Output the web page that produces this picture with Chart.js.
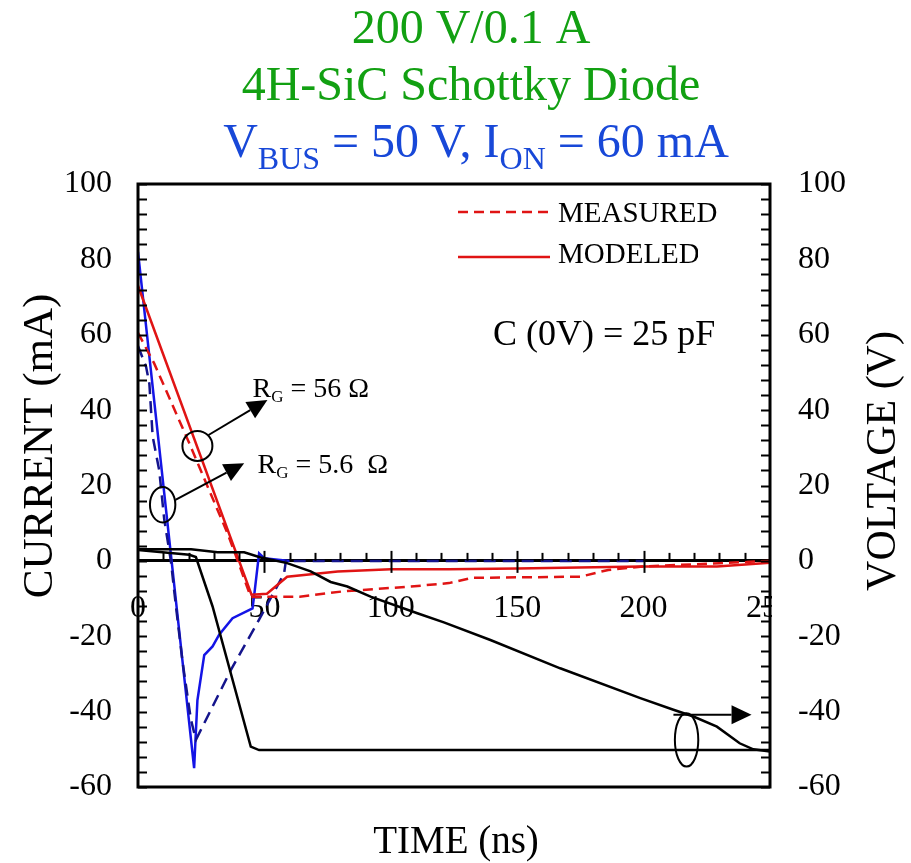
<!DOCTYPE html>
<html><head><meta charset="utf-8">
<script src="https://cdn.jsdelivr.net/npm/chart.js@4/dist/chart.umd.min.js"></script>
<style>html,body{margin:0;padding:0;background:#fff;}#wrap{width:911px;height:863px;}</style>
</head><body><div id="wrap"><canvas id="c" width="911" height="863"></canvas></div>
<script>
// ---------- DATA ----------
const timeTicks = [0, 50, 100, 150, 200, 250];
const currentTicks = [-60, -40, -20, 0, 20, 40, 60, 80, 100];
const voltageTicks = [-60, -40, -20, 0, 20, 40, 60, 80, 100];

// Measured current, RG = 56 ohm (red dashed)
const meas56T = [0, 6.4, 20.3, 35.4, 39.3, 44.6, 50, 64, 81, 108, 123, 132, 175, 186, 200, 230, 250];
const meas56I = [60.5, 52.4, 31.2, 7.3, 0.3, -9.6, -9.5, -9.5, -8.1, -6.8, -5.9, -4.5, -4.2, -2.4, -1.5, -0.6, 0];

// Modeled current, RG = 56 ohm (red solid)
const model56T = [0, 44.9, 51, 59, 79, 100, 123, 150, 199, 229, 250];
const model56I = [73, -9, -8.7, -4.2, -2.8, -2.2, -2.2, -2, -1.5, -1.5, -0.5];

// Modeled current, RG = 5.6 ohm (blue solid)
const model56bT = [0, 13, 22.2, 23.5, 26.2, 29.5, 32.1, 37.4, 45.3, 45.9, 47.9, 49.9, 60];
const model56bI = [82, 1.8, -55, -37, -25, -22.7, -19.6, -15.2, -12.6, -9.5, 2, 0.7, 0];

// Measured current, RG = 5.6 ohm (navy dashed)
const meas56bT = [0, 3.2, 4.5, 5.8, 8.4, 10.4, 13, 15, 17.6, 20.9, 22.9, 24.9, 36.7, 47.9, 57.8, 58.5, 200];
const meas56bI = [57, 51.5, 47, 33, 24, 10.9, 0, -12, -26.7, -42, -47.5, -44.8, -29, -15.6, -3.3, 0, 0];

// Voltage, RG = 56 ohm (black, slow)
const volt56T = [0, 21, 31.5, 42, 48.5, 50, 59, 68.3, 76.2, 82.8, 92, 110.5, 121, 139.4, 167, 198.7, 211.8, 219.7, 229, 238, 243.4, 250];
const volt56V = [3.1, 3.1, 2.3, 2.3, 0.9, 0.7, -0.6, -2.8, -5.6, -6.8, -9.5, -13.9, -16.3, -21, -28.5, -36.4, -39.5, -41.3, -44, -48.4, -50, -50.6];

// Voltage, RG = 5.6 ohm (black, fast)
const volt56bT = [0, 20.3, 22.9, 29.5, 44.6, 47.9, 250];
const volt56bV = [2.9, 1.6, 1.0, -12.1, -49.3, -50.2, -50.2];

// ---------- ANNOTATIONS (data coordinates) ----------
const ellipses = [
  {t: 23.5, v: 30.5, rx: 15, ry: 15, axis: 'y'},
  {t: 9.75, v: 14.9, rx: 12.7, ry: 17.7, axis: 'y'},
  {t: 217, v: -47.5, rx: 11.7, ry: 26.7, axis: 'y2'}
];
const arrows = [
  {t0: 27.9, v0: 33.4, t1: 51.2, v1: 42.7, axis: 'y'},
  {t0: 14.8, v0: 16.2, t1: 42.0, v1: 25.9, axis: 'y'},
  {t0: 211.8, v0: -40.8, t1: 242.7, v1: -40.8, axis: 'y2'}
];
const rgLabels = [
  {t: 45.3, v: 43.6, sub: 'G', rest: ' = 56 \u03A9'},
  {t: 47.3, v: 23.3, sub: 'G', rest: ' = 5.6  \u03A9'}
];

const pts = (xs, ys) => xs.map((x, i) => ({x: x, y: ys[i]}));

const SERIF = "'Liberation Serif','Times New Roman',serif";
const fnt = px => px + 'px ' + SERIF;
const RED = '#e01414', BLUE = '#1414e6', NAVY = '#14148c';

function drawParts(ctx, parts, x, y, align) {
  let total = 0;
  parts.forEach(p => { ctx.font = fnt(p.size); p.w = ctx.measureText(p.text).width; total += p.w; });
  let cx = align === 'center' ? x - total / 2 : x;
  ctx.textAlign = 'left';
  parts.forEach(p => { ctx.font = fnt(p.size); ctx.fillText(p.text, cx, y + (p.dy || 0)); cx += p.w; });
}

const deco = {
  id: 'deco',
  afterDraw(chart) {
    const ctx = chart.ctx, ca = chart.chartArea;
    const xs = chart.scales.x, ys = chart.scales.y, ys2 = chart.scales.y2;
    ctx.save();
    // frame
    ctx.strokeStyle = '#000'; ctx.lineWidth = 3; ctx.setLineDash([]);
    ctx.strokeRect(ca.left, ca.top, ca.right - ca.left, ca.bottom - ca.top);
    // y tick marks (inside)
    ctx.lineWidth = 2;
    for (let v = -60; v <= 100; v += 4) {
      const py = Math.round(ys.getPixelForValue(v)) + 0.5;
      ctx.beginPath(); ctx.moveTo(ca.left, py); ctx.lineTo(ca.left + 9, py); ctx.stroke();
      const py2 = Math.round(ys2.getPixelForValue(v)) + 0.5;
      ctx.beginPath(); ctx.moveTo(ca.right, py2); ctx.lineTo(ca.right - 9, py2); ctx.stroke();
    }
    // x tick marks on zero line
    const zy = ys.getPixelForValue(0);
    for (let t = 10; t < 250; t += 10) {
      const px = Math.round(xs.getPixelForValue(t)) + 0.5;
      ctx.beginPath();
      if (t % 50 === 0) { ctx.moveTo(px, zy - 10); ctx.lineTo(px, zy + 12); }
      else { ctx.moveTo(px, zy); ctx.lineTo(px, zy - 8); }
      ctx.stroke();
    }
    // clip last x label at the frame
    ctx.fillStyle = '#fff';
    ctx.fillRect(ca.right + 2, zy + 30, 26, 34);

    // titles
    ctx.textBaseline = 'alphabetic';
    ctx.fillStyle = '#12a012';
    drawParts(ctx, [{text: '200 V/0.1 A', size: 48}], 471, 43, 'center');
    drawParts(ctx, [{text: '4H-SiC Schottky Diode', size: 48}], 471, 100, 'center');
    ctx.fillStyle = '#1848d8';
    drawParts(ctx, [
      {text: 'V', size: 48}, {text: 'BUS', size: 32, dy: 11.6},
      {text: ' = 50 V, I', size: 48}, {text: 'ON', size: 32, dy: 11.6},
      {text: ' = 60 mA', size: 48}
    ], 476, 157, 'center');

    // axis titles
    ctx.fillStyle = '#000';
    ctx.font = fnt(39); ctx.textAlign = 'center';
    ctx.fillText('TIME (ns)', 456, 853);
    ctx.save(); ctx.translate(52, 446); ctx.rotate(-Math.PI / 2);
    ctx.font = fnt(43); ctx.fillText('CURRENT (mA)', 0, 0); ctx.restore();
    ctx.save(); ctx.translate(895, 461); ctx.rotate(-Math.PI / 2);
    ctx.font = fnt(42); ctx.fillText('VOLTAGE (V)', 0, 0); ctx.restore();

    // legend
    ctx.strokeStyle = RED; ctx.lineWidth = 2.5;
    ctx.setLineDash([10, 6]);
    ctx.beginPath(); ctx.moveTo(458, 212); ctx.lineTo(550, 212); ctx.stroke();
    ctx.setLineDash([]);
    ctx.beginPath(); ctx.moveTo(458, 257); ctx.lineTo(550, 257); ctx.stroke();
    ctx.fillStyle = '#000'; ctx.textAlign = 'left'; ctx.font = fnt(29);
    ctx.fillText('MEASURED', 558, 222);
    ctx.save(); ctx.beginPath(); ctx.rect(550, 230, 148, 45); ctx.clip();
    ctx.fillText('MODELED', 558, 263); ctx.restore();

    // capacitance note
    ctx.font = fnt(36);
    ctx.fillText('C (0V) = 25 pF', 493, 345);

    // ellipses
    ctx.strokeStyle = '#000'; ctx.lineWidth = 2;
    ellipses.forEach(e => {
      const sc = chart.scales[e.axis];
      ctx.beginPath();
      ctx.ellipse(xs.getPixelForValue(e.t), sc.getPixelForValue(e.v), e.rx, e.ry, 0, 0, Math.PI * 2);
      ctx.stroke();
    });
    // arrows
    ctx.fillStyle = '#000';
    arrows.forEach(a => {
      const sc = chart.scales[a.axis];
      const x0 = xs.getPixelForValue(a.t0), y0 = sc.getPixelForValue(a.v0);
      const x1 = xs.getPixelForValue(a.t1), y1 = sc.getPixelForValue(a.v1);
      const ang = Math.atan2(y1 - y0, x1 - x0);
      const L = 20, W = 9.5;
      const bx = x1 - L * Math.cos(ang), by = y1 - L * Math.sin(ang);
      ctx.beginPath(); ctx.moveTo(x0, y0); ctx.lineTo(bx, by); ctx.stroke();
      ctx.beginPath();
      ctx.moveTo(x1, y1);
      ctx.lineTo(bx + W * Math.sin(ang), by - W * Math.cos(ang));
      ctx.lineTo(bx - W * Math.sin(ang), by + W * Math.cos(ang));
      ctx.closePath(); ctx.fill();
    });
    // RG labels
    rgLabels.forEach(l => {
      drawParts(ctx, [{text: 'R', size: 28}, {text: l.sub, size: 17, dy: 5}, {text: l.rest, size: 28}],
        xs.getPixelForValue(l.t), ys.getPixelForValue(l.v), 'left');
    });
    ctx.restore();
  }
};

const line = (data, color, dash, axis) => ({
  data: data, borderColor: color, borderWidth: 2.5, borderDash: dash, yAxisID: axis,
  pointRadius: 0, tension: 0, fill: false
});

new Chart(document.getElementById('c'), {
  type: 'line',
  data: {
    datasets: [
      line(pts(volt56T, volt56V), '#000', [], 'y2'),
      line(pts(volt56bT, volt56bV), '#000', [], 'y2'),
      line(pts(meas56T, meas56I), RED, [10, 6], 'y'),
      line(pts(model56T, model56I), RED, [], 'y'),
      line(pts(meas56bT, meas56bI), NAVY, [12, 7], 'y'),
      line(pts(model56bT, model56bI), BLUE, [], 'y')
    ]
  },
  options: {
    responsive: false, animation: false, devicePixelRatio: 1,
    layout: {padding: {top: 184, bottom: 76, left: 0, right: 0}},
    plugins: {legend: {display: false}, title: {display: false}, tooltip: {enabled: false}},
    scales: {
      x: {
        type: 'linear', position: {y: 0}, min: 0, max: 250,
        afterBuildTicks: s => { s.ticks = timeTicks.map(v => ({value: v})); },
        grid: {display: false, drawTicks: false},
        border: {display: true, width: 3, color: '#000'},
        ticks: {autoSkip: false, maxRotation: 0, padding: 29, color: '#000', font: {family: SERIF, size: 32}}
      },
      y: {
        type: 'linear', position: 'left', min: -60, max: 100,
        afterBuildTicks: s => { s.ticks = currentTicks.map(v => ({value: v})); },
        afterFit: s => { s.width = 138; },
        grid: {display: false, drawTicks: false}, border: {display: false},
        ticks: {padding: 26, color: '#000', font: {family: SERIF, size: 32}}
      },
      y2: {
        type: 'linear', position: 'right', min: -60, max: 100,
        afterBuildTicks: s => { s.ticks = voltageTicks.map(v => ({value: v})); },
        afterFit: s => { s.width = 141; },
        grid: {display: false, drawTicks: false}, border: {display: false},
        ticks: {padding: 28, color: '#000', font: {family: SERIF, size: 32}}
      }
    }
  },
  plugins: [deco]
});
</script></body></html>
